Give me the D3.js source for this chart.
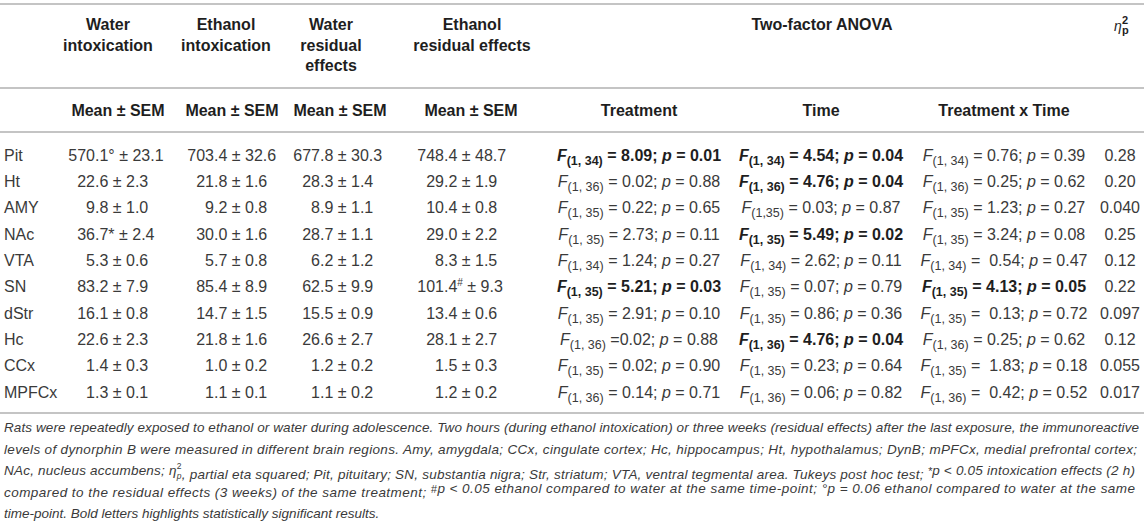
<!DOCTYPE html>
<html>
<head>
<meta charset="utf-8">
<script src="https://cdn.jsdelivr.net/npm/d3@7"></script>
<style>
body { margin: 0; background: #fff; }
svg { display: block; font-family: "Liberation Sans", Arial, sans-serif; }
svg text { white-space: pre; }
</style>
</head>
<body>
<svg id="tbl" width="1144" height="522"></svg>
<script>
// brain regions (rows)
var regions = ['Pit', 'Ht', 'AMY', 'NAc', 'VTA', 'SN', 'dStr', 'Hc', 'CCx', 'MPFCx'];

// dynorphin B, mean and SEM per group
var waterIntoxMean = [570.1, 22.6, 9.8, 36.7, 5.3, 83.2, 16.1, 22.6, 1.4, 1.3];
var waterIntoxSem = [23.1, 2.3, 1.0, 2.4, 0.6, 7.9, 0.8, 2.3, 0.3, 0.1];
var ethanolIntoxMean = [703.4, 21.8, 9.2, 30.0, 5.7, 85.4, 14.7, 21.8, 1.0, 1.1];
var ethanolIntoxSem = [32.6, 1.6, 0.8, 1.6, 0.8, 8.9, 1.5, 1.6, 0.2, 0.1];
var waterResMean = [677.8, 28.3, 8.9, 28.7, 6.2, 62.5, 15.5, 26.6, 1.2, 1.1];
var waterResSem = [30.3, 1.4, 1.1, 1.1, 1.2, 9.9, 0.9, 2.7, 0.2, 0.2];
var ethanolResMean = [748.4, 29.2, 10.4, 29.0, 8.3, 101.4, 13.4, 28.1, 1.5, 1.2];
var ethanolResSem = [48.7, 1.9, 0.8, 2.2, 1.5, 9.3, 0.6, 2.7, 0.3, 0.2];

// post hoc marks: [group, region, mark]
var marks = [['wi', 'Pit', '°'], ['wi', 'NAc', '*'], ['er', 'SN', '#']];

// two-factor ANOVA
var errorDf = [34, 36, 35, 35, 34, 35, 35, 36, 35, 36];
var treatmentF = [8.09, 0.02, 0.22, 2.73, 1.24, 5.21, 2.91, 0.02, 0.02, 0.14];
var treatmentP = [0.01, 0.88, 0.65, 0.11, 0.27, 0.03, 0.10, 0.88, 0.90, 0.71];
var timeF = [4.54, 4.76, 0.03, 5.49, 2.62, 0.07, 0.86, 4.76, 0.23, 0.06];
var timeP = [0.04, 0.04, 0.87, 0.02, 0.11, 0.79, 0.36, 0.04, 0.64, 0.82];
var interF = [0.76, 0.25, 1.23, 3.24, 0.54, 4.13, 0.13, 0.25, 1.83, 0.42];
var interP = [0.39, 0.62, 0.27, 0.08, 0.47, 0.05, 0.72, 0.62, 0.18, 0.52];
var etaSq = [0.28, 0.20, 0.040, 0.25, 0.12, 0.22, 0.097, 0.12, 0.055, 0.017];

var groupHeads = [
	['wi', ['Water', 'intoxication']],
	['ei', ['Ethanol', 'intoxication']],
	['wr', ['Water', 'residual', 'effects']],
	['er', ['Ethanol', 'residual effects']]
];
var anovaHeads = [['treat', 'Treatment'], ['time', 'Time'], ['inter', 'Treatment x Time']];

var footLines = [
	'Rats were repeatedly exposed to ethanol or water during adolescence. Two hours (during ethanol intoxication) or three weeks (residual effects) after the last exposure, the immunoreactive',
	'levels of dynorphin B were measured in different brain regions. Amy, amygdala; CCx, cingulate cortex; Hc, hippocampus; Ht, hypothalamus; DynB; mPFCx, medial prefrontal cortex;',
	'NAc, nucleus accumbens; η|, partial eta squared; Pit, pituitary; SN, substantia nigra; Str, striatum; VTA, ventral tegmental area. Tukeys post hoc test; ^*p < 0.05 intoxication effects (2 h)',
	'compared to the residual effects (3 weeks) of the same treatment; ^#p < 0.05 ethanol compared to water at the same time-point; °p = 0.06 ethanol compared to water at the same',
	'time-point. Bold letters highlights statistically significant results.'
];

var svg = d3.select('#tbl');
var INK = '#3a3a3a', BOLD_INK = '#1e1e1e';

var y = d3.scalePoint().domain(regions).range([155, 392]);
var decX = d3.scaleOrdinal().domain(['wi', 'ei', 'wr', 'er']).range([95, 214, 320, 444]);
var headX = d3.scaleOrdinal().domain(['wi', 'ei', 'wr', 'er']).range([108, 226, 331, 472]);
var subX = d3.scaleOrdinal().domain(['wi', 'ei', 'wr', 'er', 'treat', 'time', 'inter'])
	.range([118, 232, 340, 471, 639, 821, 1004]);
var etaX = 1120;

var f1 = d3.format('.1f'), f2 = d3.format('.2f'), fEta = d3.format('.2r');

// rules
svg.selectAll('line.rule')
	.data([4, 88, 132, 413])
	.enter()
	.append('line')
	.attr('x1', 0).attr('x2', 1144)
	.attr('y1', function (d) { return d; })
	.attr('y2', function (d) { return d; })
	.attr('stroke', '#c4c4c4')
	.attr('stroke-width', 2);

// group headers
groupHeads.forEach(function (g) {
	svg.append('g').selectAll('text')
		.data(g[1])
		.enter()
		.append('text')
		.attr('x', headX(g[0]))
		.attr('y', function (d, i) { return 30 + i * 20.5; })
		.attr('text-anchor', 'middle')
		.attr('font-size', 16)
		.attr('font-weight', 'bold')
		.attr('fill', BOLD_INK)
		.text(function (d) { return d; });
});

svg.append('text')
	.attr('x', 822).attr('y', 29.5)
	.attr('text-anchor', 'middle')
	.attr('font-size', 16).attr('font-weight', 'bold').attr('fill', BOLD_INK)
	.text('Two-factor ANOVA');

// eta squared header
var etaHead = svg.append('g').attr('fill', BOLD_INK);
etaHead.append('text').attr('x', 1114).attr('y', 31)
	.attr('font-size', 14).attr('font-style', 'italic').text('η');
etaHead.append('text').attr('x', 1122).attr('y', 24)
	.attr('font-size', 11).attr('font-weight', 'bold').text('2');
etaHead.append('text').attr('x', 1122).attr('y', 34)
	.attr('font-size', 11).attr('font-weight', 'bold').text('p');

// sub headers
var subHeads = groupHeads.map(function (g) { return [g[0], 'Mean ± SEM']; }).concat(anovaHeads);
svg.append('g').selectAll('text')
	.data(subHeads)
	.enter()
	.append('text')
	.attr('x', function (d) { return subX(d[0]); })
	.attr('y', 116)
	.attr('text-anchor', 'middle')
	.attr('font-size', 16).attr('font-weight', 'bold').attr('fill', BOLD_INK)
	.text(function (d) { return d[1]; });

// row labels
svg.append('g').selectAll('text')
	.data(regions)
	.enter()
	.append('text')
	.attr('x', 4)
	.attr('y', function (d) { return y(d) + 5.6; })
	.attr('font-size', 16).attr('fill', INK)
	.text(function (d) { return d; });

// mean +- sem cells, aligned on the decimal point
var meanCols = [
	['wi', waterIntoxMean, waterIntoxSem],
	['ei', ethanolIntoxMean, ethanolIntoxSem],
	['wr', waterResMean, waterResSem],
	['er', ethanolResMean, ethanolResSem]
];

meanCols.forEach(function (c) {
	var rows = regions.map(function (r, i) {
		var m = marks.filter(function (k) { return k[0] === c[0] && k[1] === r; });
		return { region: r, mean: f1(c[1][i]).split('.'), sem: f1(c[2][i]), mark: m.length ? m[0][2] : '' };
	});
	var cells = svg.append('g').attr('font-size', 16).attr('fill', INK)
		.selectAll('g')
		.data(rows)
		.enter()
		.append('g')
		.attr('transform', function (d) { return 'translate(' + decX(c[0]) + ',' + (y(d.region) + 5.6) + ')'; });

	cells.append('text')
		.attr('text-anchor', 'end')
		.text(function (d) { return d.mean[0]; });

	var rest = cells.append('text');
	rest.append('tspan').text(function (d) { return '.' + d.mean[1] + (d.mark === '#' ? '' : d.mark); });
	rest.filter(function (d) { return d.mark === '#'; })
		.append('tspan').attr('font-size', 10).attr('dy', -6).text('#');
	rest.append('tspan')
		.attr('dy', function (d) { return d.mark === '#' ? 6 : 0; })
		.text(function (d) { return ' ± ' + d.sem; });
});

// F statistics
var quirks = { treat: { tightEq: ['Hc'] }, time: { tightDf: ['AMY'] }, inter: { wideEq: ['VTA', 'dStr', 'CCx', 'MPFCx'] } };
var anovaCols = [['treat', treatmentF, treatmentP], ['time', timeF, timeP], ['inter', interF, interP]];

anovaCols.forEach(function (c) {
	var q = quirks[c[0]];
	var rows = regions.map(function (r, i) {
		return { region: r, df: errorDf[i], F: c[1][i], p: c[2][i], bold: c[2][i] <= 0.05 };
	});
	var cells = svg.append('g').selectAll('text')
		.data(rows)
		.enter()
		.append('text')
		.attr('x', subX(c[0]))
		.attr('y', function (d) { return y(d.region) + 5.6; })
		.attr('text-anchor', 'middle')
		.attr('font-size', 16)
		.attr('font-weight', function (d) { return d.bold ? 'bold' : 'normal'; })
		.attr('fill', function (d) { return d.bold ? BOLD_INK : INK; });

	cells.append('tspan').attr('font-style', 'italic').text('F');
	cells.append('tspan').attr('font-size', 12.5).attr('dy', 4)
		.text(function (d) {
			var sep = (q.tightDf && q.tightDf.indexOf(d.region) >= 0) ? ',' : ', ';
			return '(1' + sep + d.df + ')';
		});
	cells.append('tspan').attr('dy', -4)
		.text(function (d) {
			var eq = ' = ';
			if (q.tightEq && q.tightEq.indexOf(d.region) >= 0) eq = ' =';
			if (q.wideEq && q.wideEq.indexOf(d.region) >= 0) eq = ' =  ';
			return eq + f2(d.F) + '; ';
		});
	cells.append('tspan').attr('font-style', 'italic').text('p');
	cells.append('tspan').text(function (d) { return ' = ' + f2(d.p); });
});

// partial eta squared
svg.append('g').selectAll('text')
	.data(etaSq)
	.enter()
	.append('text')
	.attr('x', etaX)
	.attr('y', function (d, i) { return y(regions[i]) + 5.6; })
	.attr('text-anchor', 'middle')
	.attr('font-size', 16).attr('fill', INK)
	.text(function (d) { return fEta(d); });

// footnote (justified lines)
var footW = [1135, 1133, 1131, 1131, null];
var foot = svg.append('g').attr('font-size', 13.5).attr('font-style', 'italic').attr('fill', INK);
footLines.forEach(function (line, i) {
	var t = foot.append('text').attr('x', 4).attr('y', 432 + i * 21.5);
	if (footW[i]) t.attr('textLength', footW[i]).attr('lengthAdjust', 'spacing');
	// '|' = eta squared p, '^' = superscript next char
	var parts = line.split(/(\||\^.)/);
	parts.forEach(function (s) {
		if (s === '|') {
			t.append('tspan').attr('font-size', 8.5).attr('font-style', 'normal').attr('dy', -6).text('2');
			t.append('tspan').attr('font-size', 8.5).attr('dx', -4.8).attr('dy', 10).text('p');
			t.append('tspan').attr('dy', -4).text('');
		} else if (s.charAt(0) === '^' && s.length === 2) {
			t.append('tspan').attr('font-size', 11).attr('dy', -4).text(s.charAt(1));
			t.append('tspan').attr('dy', 4).text('');
		} else if (s.length) {
			t.append('tspan').text(s);
		}
	});
});
</script>
</body>
</html>
